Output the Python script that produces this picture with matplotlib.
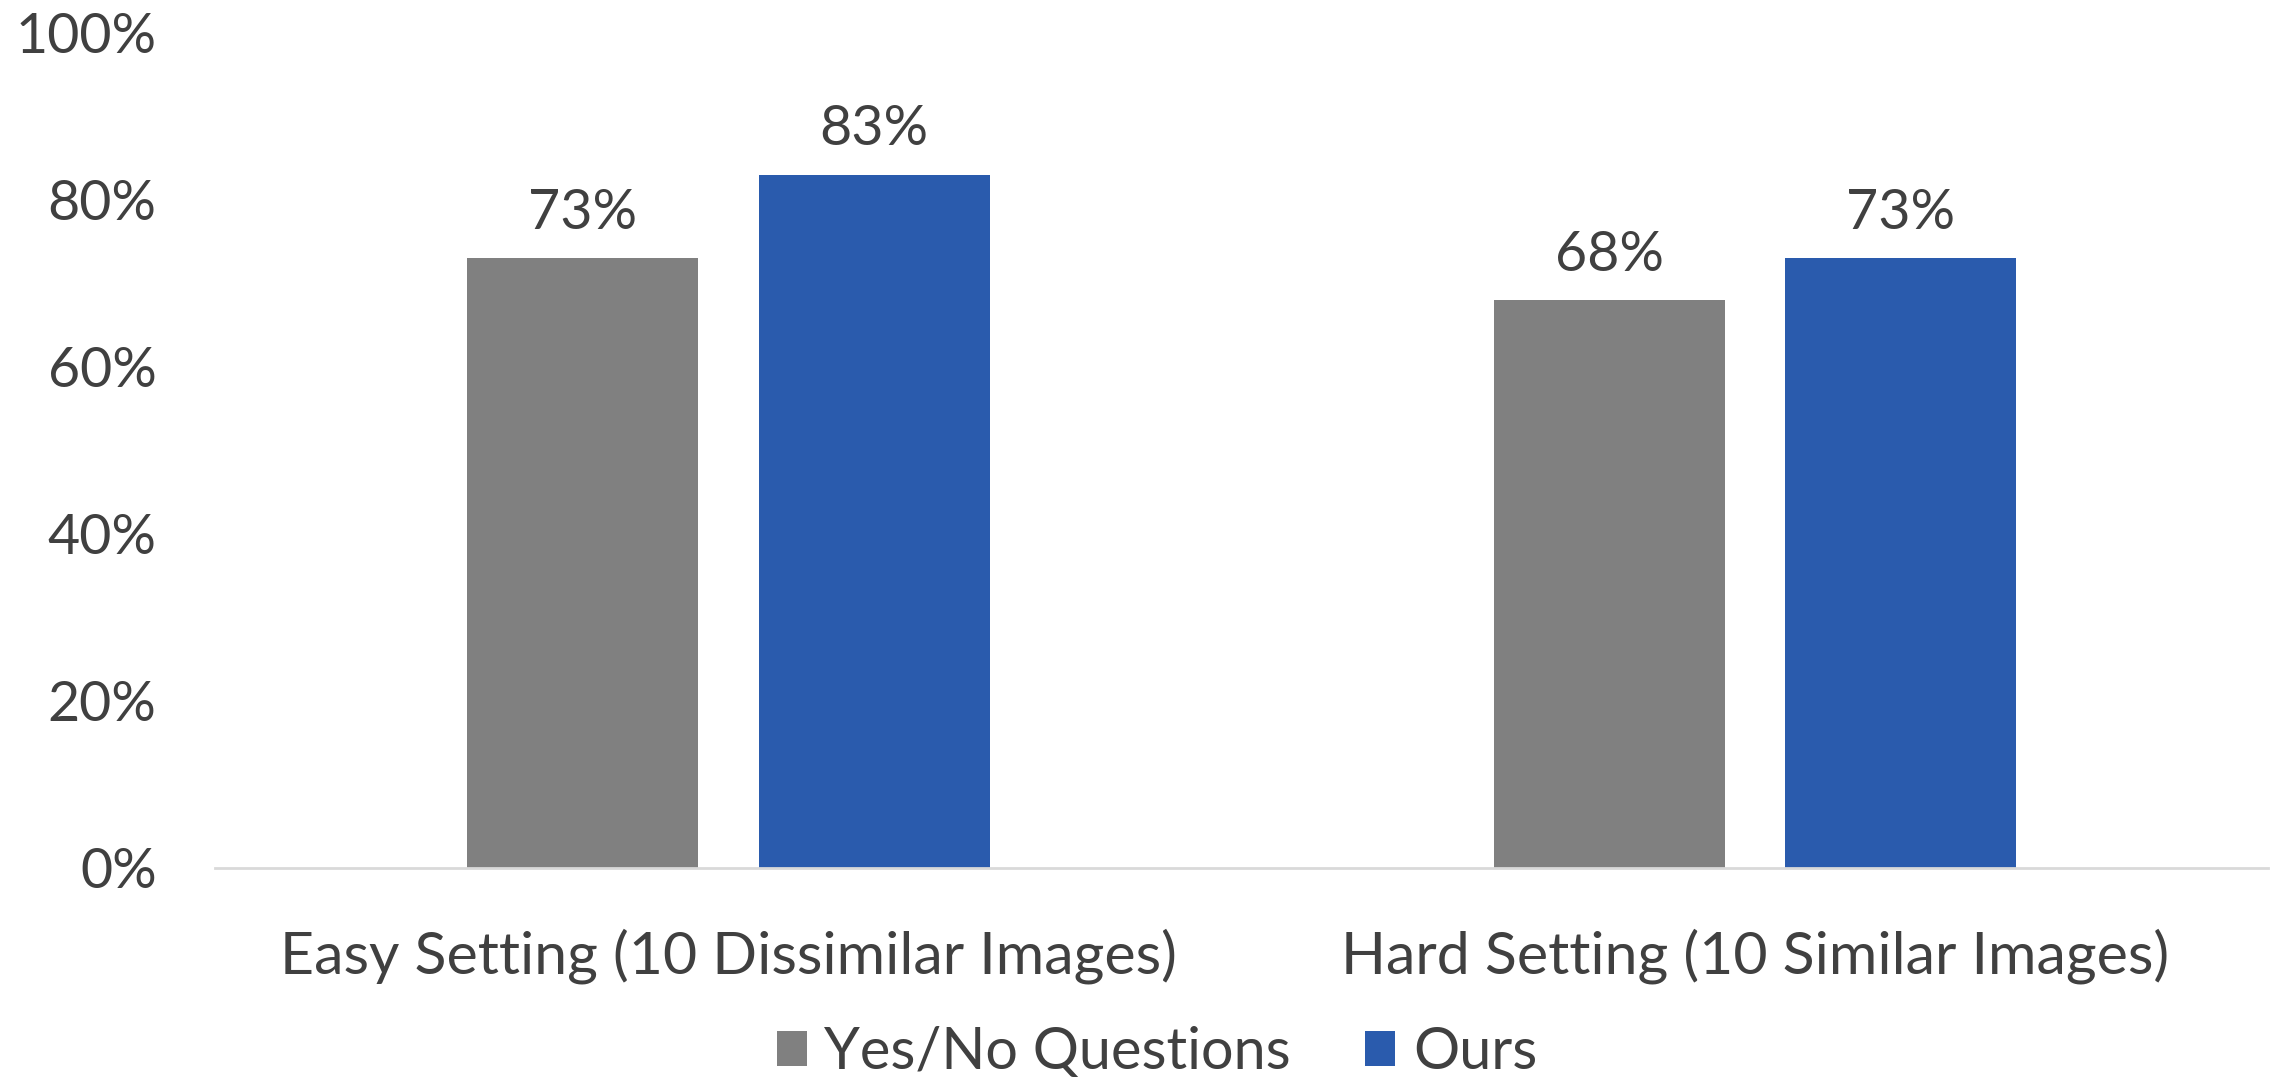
import matplotlib
matplotlib.use("Agg")
import matplotlib.pyplot as plt
import numpy as np

# data
categories = ["Easy Setting (10 Dissimilar Images)", "Hard Setting (10 Similar Images)"]
series_names = ["Yes/No Questions", "Ours"]
yes_no = [73, 68]
ours = [83, 73]
y_ticks = [0, 20, 40, 60, 80, 100]

plt.rcParams['font.family'] = ['Lato', 'DejaVu Sans']
text_color = '#404040'
colors = ['#808080', '#2A5BAD']

fig = plt.figure(figsize=(22.75, 10.77), dpi=100)
ax = fig.add_axes([0.0945, 0.1944, 0.9025, 0.775])

x = np.arange(len(categories))
width = 0.225
offset = 0.142

b1 = ax.bar(x - offset, yes_no, width, color=colors[0], label=series_names[0])
b2 = ax.bar(x + offset, ours, width, color=colors[1], label=series_names[1])

for bars in (b1, b2):
    ax.bar_label(bars, labels=[f"{v}%" for v in bars.datavalues],
                 padding=14, fontsize=40, color=text_color)

ax.set_xlim(-0.5, 1.5)
ax.set_ylim(0, 100)
ax.set_yticks(y_ticks)
ax.set_yticklabels([f"{t}%" for t in y_ticks])
ax.set_xticks(x)
ax.set_xticklabels(categories)
ax.tick_params(axis='y', length=0, pad=42, labelsize=40, labelcolor=text_color)
ax.tick_params(axis='x', length=0, pad=44, labelsize=42.5, labelcolor=text_color)

for s in ['top', 'right', 'left']:
    ax.spines[s].set_visible(False)
ax.spines['bottom'].set_color('#D9D9D9')
ax.spines['bottom'].set_linewidth(2)

fig.legend(handles=[b1, b2], labels=series_names, loc='lower center',
           bbox_to_anchor=(0.5085, -0.05), ncol=2, frameon=False, fontsize=41.5,
           labelcolor=text_color, handlelength=0.52, handleheight=0.55,
           handletextpad=0.3, columnspacing=1.3)

fig.savefig("out.png", dpi=100)
